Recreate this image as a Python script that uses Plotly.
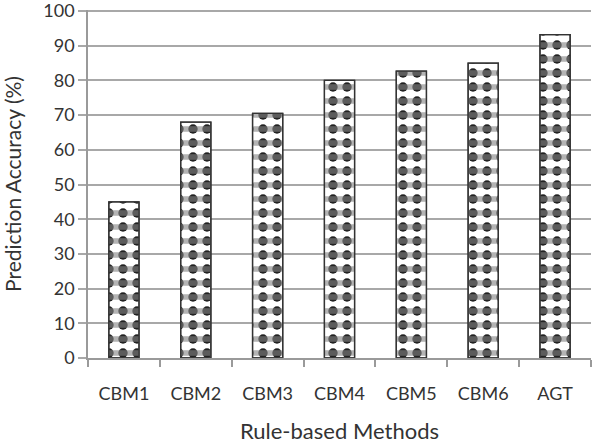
import plotly.graph_objects as go

categories = ["CBM1", "CBM2", "CBM3", "CBM4", "CBM5", "CBM6", "AGT"]
accuracy = [45, 68, 70.5, 80, 82.7, 85, 93.2]
y_ticks = [0, 10, 20, 30, 40, 50, 60, 70, 80, 90, 100]

FONT = "Lato, 'Open Sans', sans-serif"

fig = go.Figure()
# base layer: dark squares on white
fig.add_trace(go.Bar(
    x=categories, y=accuracy,
    marker=dict(color="white", line=dict(color="#333", width=1.3),
                pattern=dict(shape=".", fgcolor="#222", bgcolor="white",
                             size=14, solidity=0.35, fillmode="replace")),
    showlegend=False, hoverinfo="skip",
))
# top layer: gray horizontal bands
fig.add_trace(go.Bar(
    x=categories, y=accuracy,
    marker=dict(color="rgba(255,255,255,0)", line=dict(color="#333", width=1.3),
                pattern=dict(shape="-", fgcolor="rgba(130,130,130,0.6)", bgcolor="rgba(255,255,255,0)",
                             size=14, solidity=0.4, fillmode="replace")),
    showlegend=False,
))

fig.update_layout(
    width=592, height=447,
    margin=dict(l=88, r=1, t=10, b=89),
    paper_bgcolor="white", plot_bgcolor="white",
    barmode="overlay", bargap=0.58,
    font=dict(family=FONT, size=17, color="#333"),
    xaxis=dict(
        automargin=False,
        showline=True, linecolor="#9a9a9a", linewidth=1.5,
        ticks="outside", tickson="boundaries", ticklen=7, tickcolor="#9a9a9a", tickwidth=1.5,
        ticklabelstandoff=19,
        tickfont=dict(size=18, color="#333"),
        title=dict(text="Rule-based Methods", font=dict(size=22, color="#333"), standoff=20),
    ),
    yaxis=dict(
        automargin=False,
        range=[0, 100.3], tickmode="linear", tick0=0, dtick=10,
        ticklabeloverflow="allow",
        showline=True, linecolor="#9a9a9a", linewidth=1.5,
        showgrid=True, gridcolor="#a8a8a8", gridwidth=1.5,
        ticks="outside", ticklen=8, tickcolor="#a8a8a8", tickwidth=1.5,
        tickfont=dict(size=18, color="#333"),
        zeroline=False,
        title=dict(text="Prediction Accuracy (%)", font=dict(size=21, color="#333"), standoff=19),
    ),
)

fig.write_html("out.html", config={"displayModeBar": False},
               post_script="document.body.style.margin='0';")
